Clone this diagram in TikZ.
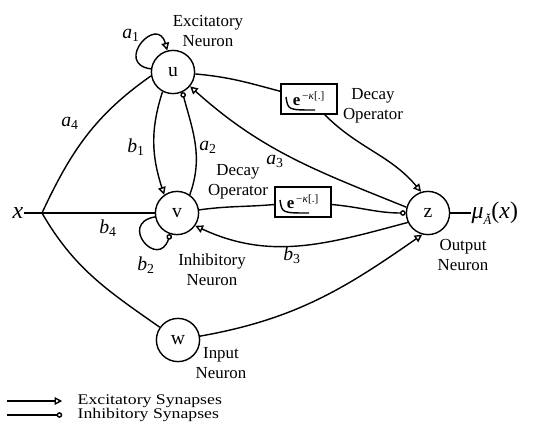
\documentclass[tikz,border=0pt]{standalone}
\usepackage{fontspec}
\setmainfont{Liberation Serif}
\usetikzlibrary{arrows.meta, positioning, calc}

\newcommand{\wgt}[2]{\textit{#1}\textsubscript{#2}}
\newcommand{\decayop}{\textbf{e}\textsuperscript{\,−\textit{κ}[.]}}

\begin{document}
\begin{tikzpicture}[
  x=0.025cm, y=0.025cm,
  font=\fontsize{12}{14.2}\selectfont,
  line width=1pt,
  neuron/.style={draw, circle, minimum size=1.08cm, inner sep=0pt,
                 font=\fontsize{14}{14}\selectfont},
  decay/.style={draw, minimum width=1.4cm, minimum height=0.75cm, inner sep=0pt},
  exc/.style={-{Triangle[open, length=5.5pt, width=5.5pt]}},
  inh/.style={-{Circle[open, length=4pt]}},
  note/.style={align=center, inner sep=0pt},
  wlabel/.style={inner sep=0pt, font=\fontsize{14}{14}\selectfont},
  legend/.style={anchor=west, inner sep=0pt, font=\fontsize{10.5}{10.5}\selectfont}
]
  \useasboundingbox (0,0) rectangle (533,-430);

  \node[neuron] (u) at (173,-72) {u};
  \node[neuron] (v) at (177,-213) {v};
  \node[neuron] (w) at (178,-340) {w};
  \node[neuron] (z) at (428,-213) {z};
  \node[decay] (du) at (309,-99) {\decayop};
  \node[decay] (dv) at (303,-202) {\decayop};
  \draw ($(du)+(-23,2)$) .. controls ($(du)+(-21,-11)$) .. ($(du)+(6,-11)$);
  \draw ($(dv)+(-23,2)$) .. controls ($(dv)+(-21,-11)$) .. ($(dv)+(6,-11)$);

  \node[inner sep=0pt, anchor=east, font=\fontsize{17}{17}\selectfont] (xin) at (24,-213) {\textit{x}};
  \coordinate (J) at (42,-213);
  \node[anchor=west, inner sep=0pt, font=\fontsize{17}{17}\selectfont] (mu) at (471,-213)
    {\textit{μ}\raisebox{-4pt}{\fontsize{9}{9}\selectfont\textit{Ă}}(\textit{x})};

  \node[note] (exlab) at (208,-31) {Excitatory\\Neuron};
  \node[note] (dulab) at (373,-106) {Decay\\Operator};
  \node[note] (dvlab) at (238,-182) {Decay\\Operator};
  \node[note] (inlab) at (212,-270) {Inhibitory\\Neuron};
  \node[note] (iplab) at (221,-363) {Input\\Neuron};
  \node[note] (oulab) at (463,-255) {Output\\Neuron};

  \draw (xin) -- (v);
  \draw (J) to[out=65, in=-145] (u.190);
  \draw (J) to[out=-60, in=145] (w);
  \draw (z) -- (mu);

  \draw[exc] (u) to[out=172, in=105, distance=0.95cm] (u);
  \draw[inh] (v) to[out=190, in=252, distance=0.95cm] (v);
  \draw[exc] (u.-118) to[out=-108, in=108] (v.125);
  \draw[inh] (v.55) to[out=70, in=-75] (u.-65);
  \draw (u) to[out=-5, in=165] (du);
  \draw[exc] (du) to[out=-45, in=130] (z.108);
  \draw[exc] (z.165) to[out=158, in=-42] (u.-40);
  \draw (v) to[out=8, in=185] (dv);
  \draw[inh] (dv) to[out=-5, in=180] (z);
  \draw[exc] (z.205) to[out=195, in=-25] (v.-35);
  \draw[exc] (w.10) to[out=10, in=-145] (z.-105);

  \node[wlabel] at (131,-35) {\wgt{a}{1}};
  \node[wlabel] at (70,-123) {\wgt{a}{4}};
  \node[wlabel] at (136,-147) {\wgt{b}{1}};
  \node[wlabel] at (208,-147) {\wgt{a}{2}};
  \node[wlabel] at (275,-161) {\wgt{a}{3}};
  \node[wlabel] at (108,-228) {\wgt{b}{4}};
  \node[wlabel] at (146,-265) {\wgt{b}{2}};
  \node[wlabel] at (292,-255) {\wgt{b}{3}};

  \coordinate (le1) at (7,-401);
  \coordinate (le2) at (7,-415);
  \node[legend] (lexc) at (77,-401) {\scalebox{1.2}[1]{Excitatory Synapses}};
  \node[legend] (linh) at (77,-415) {\scalebox{1.2}[1]{Inhibitory Synapses}};
  \draw[exc, shorten >=10.5pt] (le1) -- (lexc);
  \draw[inh, shorten >=10.5pt] (le2) -- (linh);
\end{tikzpicture}
\end{document}
